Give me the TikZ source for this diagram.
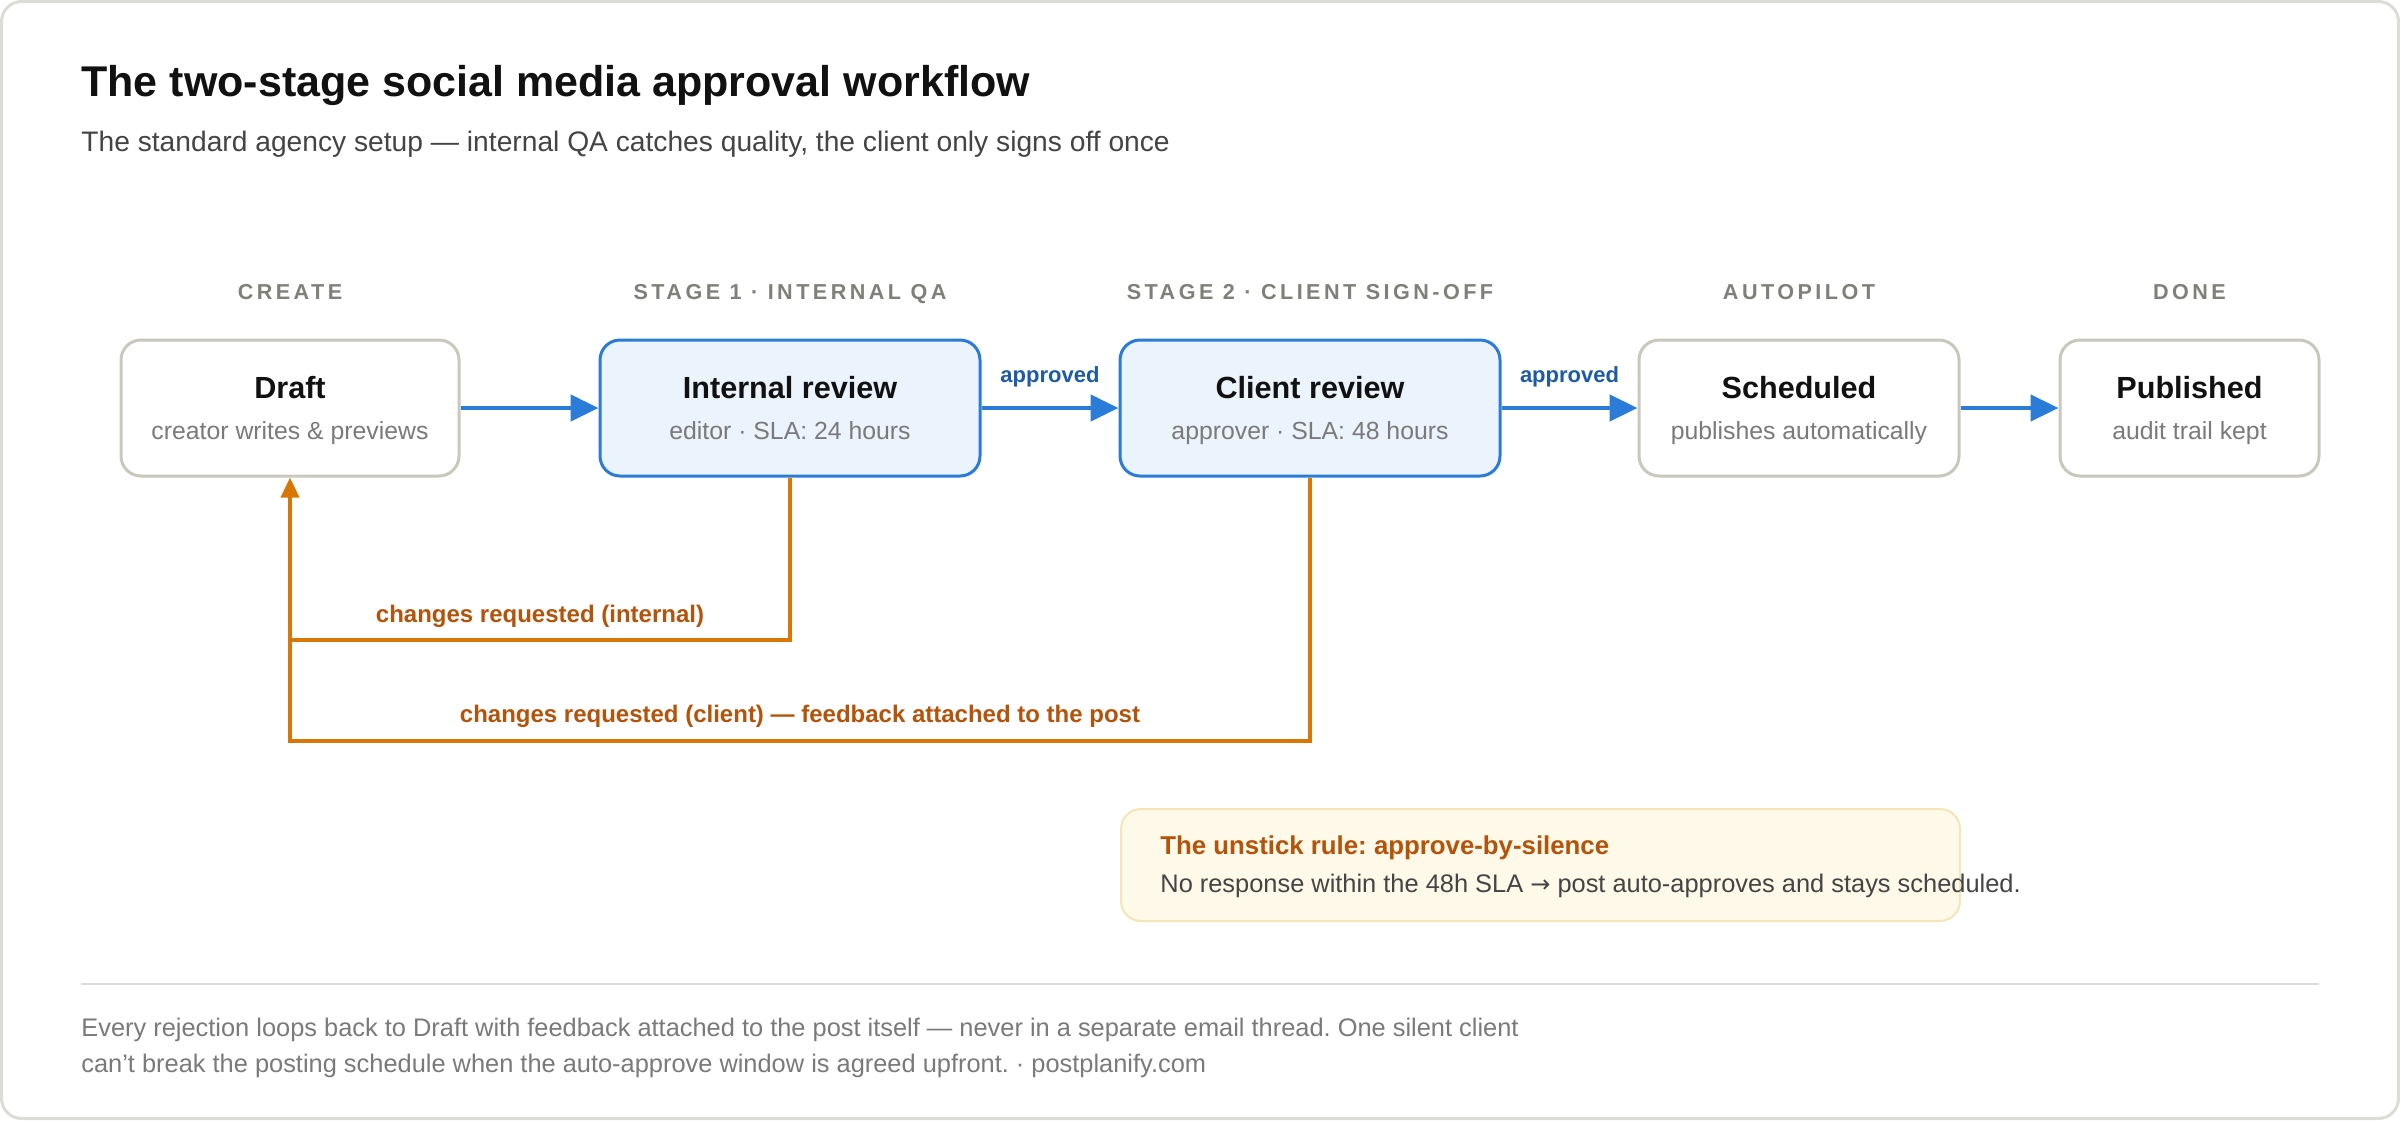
\documentclass[tikz,border=0pt]{standalone}
\usepackage{fontspec}
\setmainfont{Liberation Sans}
\newfontfamily\trackfont[LetterSpace=16]{Liberation Sans}
\newfontfamily\symfont{DejaVu Sans}
\frenchspacing
\usepackage{tikz}
\usetikzlibrary{arrows.meta,positioning}
\definecolor{framegray}{HTML}{DCDCD6}
\definecolor{boxgray}{HTML}{C8C8BC}
\definecolor{ink}{HTML}{111111}
\definecolor{subink}{HTML}{444444}
\definecolor{muted}{HTML}{7A7A7A}
\definecolor{stagegray}{HTML}{80807A}
\definecolor{blue}{HTML}{2B7BD8}
\definecolor{bluefill}{HTML}{EBF3FD}
\definecolor{blueink}{HTML}{1D5AA8}
\definecolor{orange}{HTML}{D97706}
\definecolor{orangeink}{HTML}{B45309}
\definecolor{notefill}{HTML}{FEF9E8}
\definecolor{noteline}{HTML}{F3E6B8}
\tikzset{
  frame/.style={draw=framegray, line width=1.5pt, fill=white, rounded corners=10pt},
  stepbox/.style={draw=boxgray, line width=1.5pt, fill=white, rounded corners=10pt, minimum height=68pt, inner sep=0pt},
  qabox/.style={stepbox, draw=blue, fill=bluefill},
  flow/.style={draw=blue, line width=2.25pt, -{Triangle[length=14pt, width=13pt]}},
  backline/.style={draw=orange, line width=1.75pt},
  titletxt/.style={text=ink, font=\fontsize{21.5}{25}\selectfont\bfseries, inner sep=0pt},
  subtxt/.style={text=subink, font=\fontsize{14.1}{17}\selectfont, inner sep=0pt},
  stagelbl/.style={text=stagegray, font=\fontsize{10.8}{13}\selectfont\trackfont\bfseries, inner sep=0pt},
  boxttl/.style={text=ink, font=\fontsize{15.3}{18}\selectfont\bfseries, inner sep=0pt},
  boxsub/.style={text=muted, font=\fontsize{12.4}{15}\selectfont, inner sep=0pt},
  oklbl/.style={text=blueink, font=\fontsize{11}{13}\selectfont\bfseries, inner sep=0pt},
  backlbl/.style={text=orangeink, font=\fontsize{12}{14}\selectfont\bfseries, inner sep=0pt},
  notebox/.style={draw=noteline, line width=1pt, fill=notefill, rounded corners=10pt, inner sep=0pt},
  notettl/.style={text=orangeink, font=\fontsize{12.9}{15}\selectfont\bfseries, inner sep=0pt},
  notetxt/.style={text=subink, font=\fontsize{12.7}{15}\selectfont, inner sep=0pt},
  foot/.style={text=muted, font=\fontsize{12.7}{15}\selectfont, inner sep=0pt}
}
\begin{document}
\begin{tikzpicture}[x=0.5pt, y=-0.5pt]
  \useasboundingbox (0,0) rectangle (2400,1120);
  \draw[frame] (1.5,1.5) rectangle (2398.5,1118.5);

  % heading
  \node[titletxt, anchor=base west] (title) at (81,96) {The two-stage social media approval workflow};
  \node[subtxt, anchor=base west] (subtitle) at (81,151) {The standard agency setup — internal QA catches quality, the client only signs off once};

  % stages
  \node[stepbox, minimum width=169pt] (draft) at (290,408) {};
  \node[qabox, minimum width=190pt] (internal) at (790,408) {};
  \node[qabox, minimum width=190pt] (client) at (1310,408) {};
  \node[stepbox, minimum width=160pt] (sched) at (1799,408) {};
  \node[stepbox, minimum width=129.5pt] (pub) at (2189.5,408) {};

  \node[stagelbl, anchor=base] (lcreate) at (draft |- 0,299) {CREATE};
  \node[stagelbl, anchor=base] (lstage1) at (internal |- 0,299) {STAGE 1 · INTERNAL QA};
  \node[stagelbl, anchor=base] (lstage2) at (client |- 0,299) {STAGE 2 · CLIENT SIGN-OFF};
  \node[stagelbl, anchor=base] (lauto) at (sched |- 0,299) {AUTOPILOT};
  \node[stagelbl, anchor=base] (ldone) at (pub |- 0,299) {DONE};

  \node[boxttl, anchor=base] (tdraft) at (draft |- 0,398) {Draft};
  \node[boxsub, anchor=base] (sdraft) at (draft |- 0,439) {creator writes \& previews};
  \node[boxttl, anchor=base] (tinternal) at (internal |- 0,398) {Internal review};
  \node[boxsub, anchor=base] (sinternal) at (internal |- 0,439) {editor · SLA: 24 hours};
  \node[boxttl, anchor=base] (tclient) at (client |- 0,398) {Client review};
  \node[boxsub, anchor=base] (sclient) at (client |- 0,439) {approver · SLA: 48 hours};
  \node[boxttl, anchor=base] (tsched) at (sched |- 0,398) {Scheduled};
  \node[boxsub, anchor=base] (ssched) at (sched |- 0,439) {publishes automatically};
  \node[boxttl, anchor=base] (tpub) at (pub |- 0,398) {Published};
  \node[boxsub, anchor=base] (spub) at (pub |- 0,439) {audit trail kept};

  % forward flow
  \draw[flow] (draft) -- (internal);
  \draw[flow] (internal) -- node[oklbl, midway, anchor=base, yshift=13pt] (ok1) {approved} (client);
  \draw[flow] (client) -- node[oklbl, midway, anchor=base, yshift=13pt] (ok2) {approved} (sched);
  \draw[flow] (sched) -- (pub);

  % rejections back to draft
  \coordinate (bendA) at (draft.south |- 0,640);
  \coordinate (bendB) at (draft.south |- 0,741);
  \draw[backline] (client.south) |- node[backlbl, pos=0.75, anchor=base, yshift=9.5pt] (back2) {changes requested (client) — feedback attached to the post} (bendB) -- (bendA);
  \draw[backline, -{Triangle[length=10pt, width=9pt]}] (internal.south) |- node[backlbl, pos=0.75, anchor=base, yshift=9pt] (back1) {changes requested (internal)} (bendA) -- (draft.south);

  % unstick rule
  \node[notebox, anchor=north west, minimum width=419.5pt, minimum height=56pt] (note) at (1120,808) {};
  \node[notettl, anchor=base west] (notehead) at (1160,854) {The unstick rule: approve-by-silence};
  \node[notetxt, anchor=base west] (notebody) at (1160,892) {No response within the 48h SLA {\symfont\fontsize{12}{14}\selectfont →} post auto-approves and stays scheduled.};

  % footer
  \draw[framegray, line width=1.25pt] (81,984) -- (2319,984);
  \node[foot, anchor=base west] (foot1) at (81,1036) {Every rejection loops back to Draft with feedback attached to the post itself — never in a separate email thread. One silent client};
  \node[foot, anchor=base west] (foot2) at (81,1072) {can't break the posting schedule when the auto-approve window is agreed upfront. · postplanify.com};
\end{tikzpicture}
\end{document}
